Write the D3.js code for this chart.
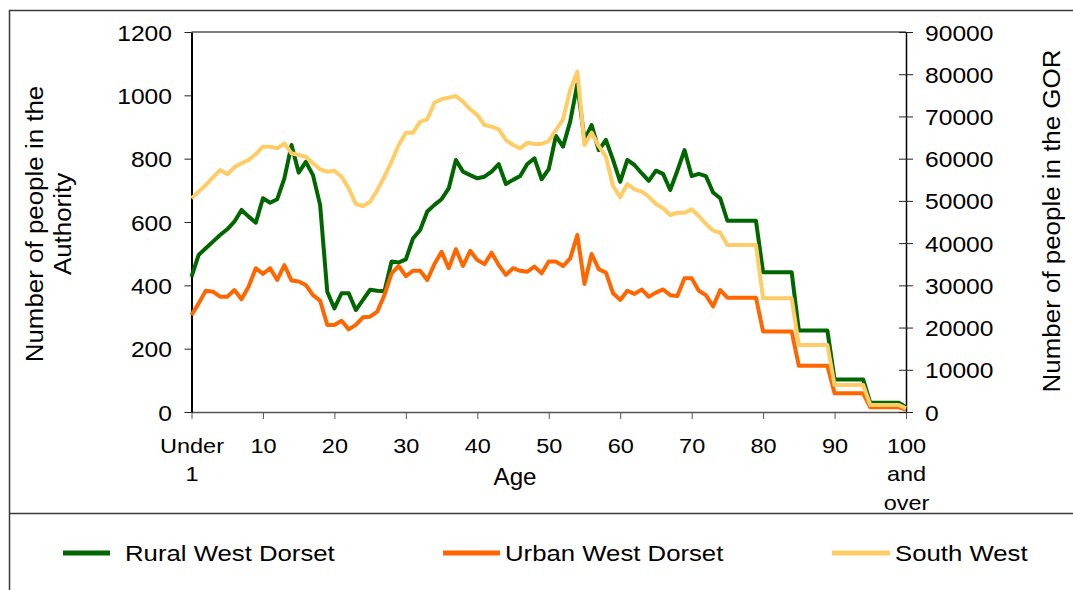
<!DOCTYPE html>
<html>
<head>
<meta charset="utf-8">
<script src="https://cdn.jsdelivr.net/npm/d3@7"></script>
<style>
  body { margin: 0; background: #fff; }
  text { font-family: "Liberation Sans", Arial, sans-serif; fill: #000; }
</style>
</head>
<body>
<div class="chart"></div>
<script>
// ages 0 .. 100 (0 = "Under 1", 100 = "100 and over")
var ages = d3.range(0, 101);

var rural = [427, 496, 517, 538, 559, 577, 601, 638, 617, 598,
  675, 661, 672, 738, 843, 756, 790, 748, 654, 380,
  327, 375, 375, 322, 354, 386, 383, 381, 475, 472,
  482, 548, 575, 633, 654, 672, 706, 796, 759, 748,
  738, 743, 759, 783, 720, 733, 745, 783, 801, 735,
  767, 872, 838, 917, 1035, 859, 906, 827, 859, 796,
  727, 796, 780, 754, 730, 762, 752, 701, 762, 827,
  745, 752, 745, 693, 675, 604, 604, 604, 604, 604,
  441, 441, 441, 441, 441, 257, 257, 257, 257, 257,
  103, 103, 103, 103, 103, 29, 29, 29, 29, 29,
  15];

var urban = [306, 343, 383, 380, 364, 364, 385, 356, 396, 454,
  436, 454, 417, 464, 415, 412, 401, 369, 352, 275,
  275, 288, 261, 275, 299, 301, 317, 369, 438, 461,
  429, 446, 446, 417, 467, 506, 454, 514, 461, 509,
  480, 467, 503, 464, 433, 454, 446, 443, 459, 438,
  475, 475, 461, 485, 559, 404, 499, 451, 440, 375,
  354, 383, 373, 387, 364, 377, 387, 369, 366, 422,
  422, 383, 369, 333, 385, 361, 361, 361, 361, 361,
  254, 254, 254, 254, 254, 146, 146, 146, 146, 146,
  59, 59, 59, 59, 59, 15, 15, 15, 15, 15,
  8];

var southWest = [50600, 52200, 53760, 55580, 57300, 56300, 57950, 58900, 59700, 61100,
  62840, 62840, 62450, 63640, 61270, 60870, 60470, 58900, 57480, 56910,
  57150, 55730, 52970, 49260, 48790, 49810, 52580, 55730, 59280, 63240,
  66150, 66150, 68760, 69320, 73260, 74060, 74450, 74840, 73500, 71690,
  70340, 67970, 67580, 66950, 64420, 63240, 62450, 63790, 63470, 63470,
  64200, 66790, 69320, 76260, 80600, 63240, 66150, 63000, 60470, 53530,
  50850, 54000, 52740, 52180, 51000, 49260, 48240, 46660, 47200, 47200,
  48000, 46420, 44530, 42950, 42470, 39550, 39550, 39550, 39550, 39550,
  26920, 26920, 26920, 26920, 26920, 15870, 15870, 15870, 15870, 15870,
  6390, 6390, 6390, 6390, 6390, 1660, 1660, 1660, 1660, 1660,
  870];

var seriesNames = ['Rural West Dorset', 'Urban West Dorset', 'South West'];
var xTicks = [0, 10, 20, 30, 40, 50, 60, 70, 80, 90, 100];
var xTickLabels = [['Under', '1'], ['10'], ['20'], ['30'], ['40'], ['50'], ['60'], ['70'], ['80'], ['90'], ['100', 'and', 'over']];
var leftTicks = [0, 200, 400, 600, 800, 1000, 1200];
var rightTicks = [0, 10000, 20000, 30000, 40000, 50000, 60000, 70000, 80000, 90000];

var width = 1073;
var height = 590;
var plot = {left: 191.5, right: 906, top: 32, bottom: 412};
var colors = ['#006600', '#ff6600', '#ffcc66'];
var stretch = 1.12; // the original lettering is a bit wider than Arial

var x = d3.scaleLinear().domain([0, 100]).range([plot.left, plot.right]);
var yL = d3.scaleLinear().domain([0, 1200]).range([plot.bottom, plot.top]);
var yR = d3.scaleLinear().domain([0, 90000]).range([plot.bottom, plot.top]);

var svg = d3.select('.chart').append('svg')
  .attr('width', width)
  .attr('height', height);

svg.append('rect').attr('width', width).attr('height', height).attr('fill', '#fff');

// outer frame + divider above legend
svg.append('path')
  .attr('d', `M9.5,${height} V10.5 H${width} M9.5,513.5 H${width}`)
  .attr('fill', 'none')
  .attr('stroke', '#3a3a3a')
  .attr('stroke-width', 1.5);

// top border of plot area
svg.append('line')
  .attr('x1', plot.left).attr('x2', plot.right)
  .attr('y1', plot.top).attr('y2', plot.top)
  .attr('stroke', '#555').attr('stroke-width', 1.5);

// x axis
var gX = svg.append('g')
  .attr('transform', `translate(0, ${plot.bottom})`)
  .call(d3.axisBottom(x).tickValues(xTicks).tickSize(7).tickSizeOuter(0));
gX.select('.domain').attr('stroke', '#555').attr('stroke-width', 1.5);
gX.selectAll('.tick line').attr('stroke', '#555');
gX.selectAll('.tick text').each(function(d, i) {
  var t = d3.select(this);
  t.text(null)
    .attr('y', 0).attr('dy', null)
    .attr('font-size', 21)
    .attr('transform', `translate(0, 41) scale(${stretch}, 1)`);
  xTickLabels[i].forEach(function(s, j) {
    t.append('tspan').attr('x', 0).attr('dy', j ? 28.5 : 0).text(s);
  });
});

// left axis
var gL = svg.append('g')
  .attr('transform', `translate(${plot.left}, 0)`)
  .call(d3.axisLeft(yL).tickValues(leftTicks).tickFormat(d3.format('d')).tickSize(7).tickSizeOuter(0));
gL.select('.domain').attr('stroke', '#000').attr('stroke-width', 2);
gL.selectAll('.tick line').attr('stroke', '#222');
gL.selectAll('.tick text')
  .attr('x', 0).attr('dy', null)
  .attr('font-size', 22)
  .attr('transform', `translate(-19.5, 8) scale(${stretch}, 1)`);

// right axis, ticks cross the line
var gR = svg.append('g')
  .attr('transform', `translate(${plot.right}, 0)`)
  .call(d3.axisRight(yR).tickValues(rightTicks).tickFormat(d3.format('d')).tickSize(7).tickSizeOuter(0));
gR.select('.domain').attr('stroke', '#000').attr('stroke-width', 1.5);
gR.selectAll('.tick line').attr('x1', -7).attr('x2', 7).attr('stroke', '#222');
gR.selectAll('.tick text')
  .attr('x', 0).attr('dy', null)
  .attr('font-size', 22)
  .attr('transform', `translate(19, 8) scale(${stretch}, 1)`);

// axis titles
var leftTitle = svg.append('text')
  .attr('text-anchor', 'middle')
  .attr('font-size', 24)
  .attr('transform', `translate(43, 224) rotate(-90) scale(1.08, 1)`);
leftTitle.append('tspan').attr('x', 0).attr('dy', 0).text('Number of people in the');
leftTitle.append('tspan').attr('x', 0).attr('dy', 28).text('Authority');

svg.append('text')
  .attr('text-anchor', 'middle')
  .attr('font-size', 24)
  .attr('transform', `translate(1060, 221) rotate(-90) scale(1.08, 1)`)
  .text('Number of people in the GOR');

svg.append('text')
  .attr('text-anchor', 'middle')
  .attr('font-size', 23)
  .attr('transform', `translate(515, 485) scale(1.05, 1)`)
  .text('Age');

// series
var lineL = d3.line().x((d, i) => x(ages[i])).y(d => yL(d));
var lineR = d3.line().x((d, i) => x(ages[i])).y(d => yR(d));

var series = [
  {name: seriesNames[0], values: rural, line: lineL, color: colors[0]},
  {name: seriesNames[1], values: urban, line: lineL, color: colors[1]},
  {name: seriesNames[2], values: southWest, line: lineR, color: colors[2]}
];

svg.append('g').selectAll('path')
  .data(series)
  .enter().append('path')
    .attr('d', d => d.line(d.values))
    .attr('fill', 'none')
    .attr('stroke', d => d.color)
    .attr('stroke-width', 4)
    .attr('stroke-linejoin', 'round');

// legend
var legendPos = [{x0: 63, x1: 110, tx: 125}, {x0: 443, x1: 500, tx: 505}, {x0: 832, x1: 890, tx: 895}];
var legend = svg.append('g').selectAll('g')
  .data(series)
  .enter().append('g');
legend.append('line')
  .attr('x1', (d, i) => legendPos[i].x0)
  .attr('x2', (d, i) => legendPos[i].x1)
  .attr('y1', 553).attr('y2', 553)
  .attr('stroke', d => d.color)
  .attr('stroke-width', 5);
legend.append('text')
  .attr('font-size', 22)
  .attr('transform', (d, i) => `translate(${legendPos[i].tx}, 561) scale(1.17, 1)`)
  .text(d => d.name);
</script>
</body>
</html>
